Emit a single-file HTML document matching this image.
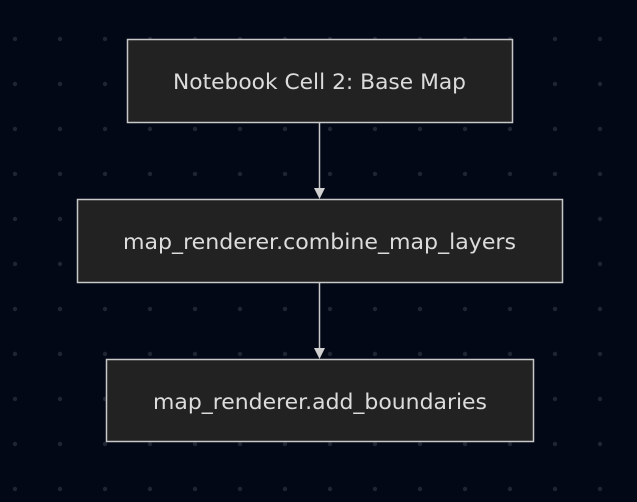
<!DOCTYPE html>
<html><head><style>
html,body{margin:0;padding:0;background:#030817;}
svg{display:block}
text{font-family:"DejaVu Sans","Liberation Sans",sans-serif;font-size:21px;fill:#dcdcdc}
</style></head><body>
<svg width="637" height="502" xmlns="http://www.w3.org/2000/svg">
<defs>
<pattern id="d" x="0" y="0" width="45" height="45" patternUnits="userSpaceOnUse">
<circle cx="15" cy="39" r="2.2" fill="#202533"/>
</pattern>
</defs>
<rect width="637" height="502" fill="#030817"/>
<rect width="637" height="502" fill="url(#d)"/>
<line x1="319.5" y1="122" x2="319.5" y2="190" stroke="#c8c8c8" stroke-width="1.5"/>
<polygon points="314,188 325,188 319.5,199" fill="#d0d0d0"/>
<line x1="319.5" y1="282" x2="319.5" y2="350" stroke="#c8c8c8" stroke-width="1.5"/>
<polygon points="314,348 325,348 319.5,359" fill="#d0d0d0"/>
<rect x="127.5" y="39.5" width="385" height="83" fill="#222222" stroke="#c8c8c8" stroke-width="1.5"/>
<rect x="77.5" y="199.5" width="485" height="83" fill="#222222" stroke="#c8c8c8" stroke-width="1.5"/>
<rect x="106.5" y="359.5" width="427" height="82" fill="#222222" stroke="#c8c8c8" stroke-width="1.5"/>
<text x="173" y="89" textLength="293" lengthAdjust="spacingAndGlyphs">Notebook Cell 2: Base Map</text>
<text x="123" y="249" textLength="393" lengthAdjust="spacingAndGlyphs">map_renderer.combine_map_layers</text>
<text x="153" y="409" textLength="334" lengthAdjust="spacingAndGlyphs">map_renderer.add_boundaries</text>
</svg>
</body></html>
